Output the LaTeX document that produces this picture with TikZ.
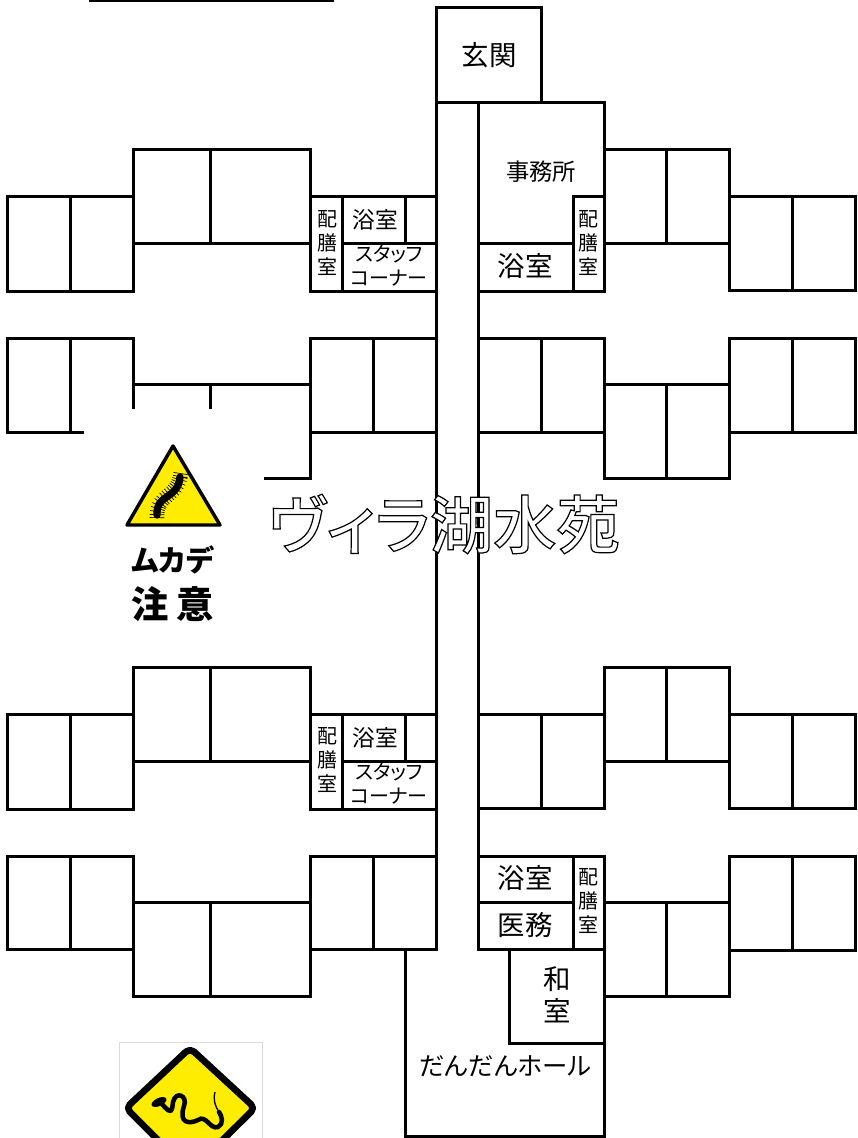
\documentclass[tikz,border=0pt]{standalone}
\usepackage{fontspec}
\setmainfont[RawFeature={+palt}]{Noto Sans CJK JP}
\newfontfamily\titlefont[RawFeature={+palt}]{Noto Sans CJK JP Medium}
\usetikzlibrary{calc}

\begin{document}
\begin{tikzpicture}[
    x = 0.75pt,
    y = -0.75pt
  ]
  \tikzstyle{wall}  = [draw, line width = 2.25pt, line cap = rect]
  \tikzstyle{lab}   = [inner sep = 0pt, align = center, text = black]
  \tikzstyle{small} = [lab, font = \fontsize{15}{18}\selectfont]
  \tikzstyle{mid}   = [lab, font = \fontsize{17}{20}\selectfont]
  \tikzstyle{big}   = [lab, font = \fontsize{20.6}{24}\selectfont]
  \tikzstyle{warn}  = [lab, font = \bfseries\fontsize{22}{24}\selectfont]

  \useasboundingbox (0,0) rectangle (857,1138);
  \clip (0,0) rectangle (857,1138);

  % entrance and corridor
  \draw [wall] (90,1) -- (332,1);
  \draw [wall] (436,8) rectangle (541,102);
  \draw [wall] (436,102) -- (436,949);
  \draw [wall] (478,102) -- (478,949);

  % outer rooms on the right
  \foreach \rowy in {196,338,714,856} {
    \draw [wall] (729,\rowy) rectangle ++(126,94);
    \draw [wall] (792,\rowy) -- ++(0,94);
  }
  % outer rooms on the left
  \foreach \rowy in {196,714} {
    \draw [wall] (7,\rowy) rectangle ++(126,95);
    \draw [wall] (70,\rowy) -- ++(0,95);
  }
  \draw [wall] (7,856) rectangle (133,949);
  \draw [wall] (70,856) -- (70,949);
  \draw [wall] (133,338) -- (7,338) -- (7,432) -- (82,432);
  \draw [wall] (70,338) -- (70,432);

  % left wings with the staff corner
  \foreach \dy in {0,518} {
    \begin{scope}[shift = {(0,\dy)}]
      \draw [wall] (133,243) -- (133,149) -- (310,149) -- (310,291);
      \draw [wall] (210,149) -- (210,243);
      \draw [wall] (133,243) -- (310,243);
      \draw [wall] (342,243) -- (436,243);
      \draw [wall] (310,196) -- (436,196);
      \draw [wall] (310,291) -- (436,291);
      \draw [wall] (342,196) -- (342,291);
      \draw [wall] (405,196) -- (405,243);
      \node [mid]   (bath\dy)  at (375,220)  {浴室};
    \end{scope}
  }
  \node [small] (pantrya) at (327,243) {配\\膳\\室};
  \node [small] (pantryb) at (327,760) {配\\膳\\室};
  \node [small] (staffa)  at (389,266) {スタッフ\\コーナー};
  \node [small] (staffb)  at (389,784) {スタッフ\\コーナー};

  % upper right
  \draw [wall] (478,102) -- (604,102) -- (604,291) -- (478,291);
  \draw [wall] (478,243) -- (573,243);
  \draw [wall] (604,196) -- (573,196) -- (573,291);
  \draw [wall] (604,149) -- (729,149) -- (729,243) -- (604,243);
  \draw [wall] (666,149) -- (666,243);

  % second row, left
  \draw [wall] (133,338) -- (133,407);
  \draw [wall] (133,384) -- (310,384);
  \draw [wall] (210,384) -- (210,407);
  \draw [wall] (265,478) -- (310,478) -- (310,338) -- (436,338);
  \draw [wall] (373,338) -- (373,432);
  \draw [wall] (310,432) -- (436,432);

  % second row, right
  \draw [wall] (478,338) -- (604,338) -- (604,478) -- (729,478) -- (729,384) -- (604,384);
  \draw [wall] (541,338) -- (541,432);
  \draw [wall] (478,432) -- (604,432);
  \draw [wall] (666,384) -- (666,478);

  % third row, right
  \draw [wall] (478,714) -- (604,714);
  \draw [wall] (478,808) -- (604,808);
  \draw [wall] (541,714) -- (541,808);
  \draw [wall] (604,808) -- (604,667) -- (729,667) -- (729,761) -- (604,761);
  \draw [wall] (666,667) -- (666,761);

  % fourth row, left
  \draw [wall] (133,902) rectangle (310,996);
  \draw [wall] (210,902) -- (210,996);
  \draw [wall] (310,902) -- (310,856) -- (436,856);
  \draw [wall] (373,856) -- (373,949);
  \draw [wall] (310,949) -- (436,949);

  % fourth row, right and the hall
  \draw [wall] (405,949) -- (405,1136) -- (604,1136) -- (604,856) -- (478,856);
  \draw [wall] (478,902) -- (573,902);
  \draw [wall] (573,856) -- (573,949);
  \draw [wall] (478,949) -- (604,949);
  \draw [wall] (509,949) -- (509,1043) -- (604,1043);
  \draw [wall] (604,902) -- (729,902) -- (729,996) -- (604,996);
  \draw [wall] (666,902) -- (666,996);

  % room names
  \node [big]   (genkan)  at (489,55)   {玄関};
  \node [lab, font = \fontsize{17.5}{20}\selectfont] (office) at (541,172) {事務所};
  \node [big]   (batha)   at (525,266)  {浴室};
  \node [small] (pantryc) at (588,243)  {配\\膳\\室};
  \node [big]   (bathb)   at (525,878)  {浴室};
  \node [big]   (clinic)  at (525,925)  {医務};
  \node [small] (pantryd) at (588,901)  {配\\膳\\室};
  \node [big]   (washitu) at (557,995)  {和\\室};
  \node [lab, font = \fontsize{19}{22}\selectfont] (hall) at (505,1066) {だんだんホール};

  % outlined title
  \node [lab, font = \titlefont\fontsize{47.5}{54}\selectfont] (title) at (444,524)
    {\special{pdf:code q 2 Tr 0.9 w 1 g 0 G}ヴィラ湖水苑\special{pdf:code 0 Tr Q}};

  % centipede sign
  \draw [fill = yellow!95!orange, line width = 2.6pt, line join = round]
    (173,446) -- (127,525) -- (220,525) -- cycle;
  \draw [line width = 11pt, dash pattern = on 0.5pt off 1.8pt]
    (157,518) .. controls (156,492) and (178,500) .. (181,472);
  \draw [line width = 5.5pt, line cap = round]
    (157,515) .. controls (156,493) and (178,500) .. (180,477);
  \node [warn] (warna) at (173,560) {ムカデ};
  \node [warn, font = \bfseries\fontsize{28}{30}\selectfont] (warnb) at (173,604) {注\hspace{0.2em}意};

  % snake sign
  \draw [draw = black!15, fill = white, line width = 0.7pt] (119,1042) rectangle (262,1160);
  \draw [fill = yellow!95!orange, line width = 5pt, line join = round, rounded corners = 4]
    (190,1048) -- (126,1108) -- (190,1172) -- (255,1108) -- cycle;
  \fill (159,1102) ellipse [x radius = 8, y radius = 4, rotate = 25];
  \draw [line width = 3.4pt, line cap = round]
    (162,1104) .. controls (172,1116) and (172,1110) .. (173,1102)
    .. controls (176,1090) and (188,1096) .. (184,1106)
    .. controls (178,1124) and (190,1124) .. (198,1120)
    .. controls (206,1114) and (210,1130) .. (218,1127)
    .. controls (224,1124) and (222,1116) .. (219,1112);
  \draw [line width = 1pt] (219,1112) .. controls (215,1106) and (213,1100) .. (215,1092);
\end{tikzpicture}
\end{document}
